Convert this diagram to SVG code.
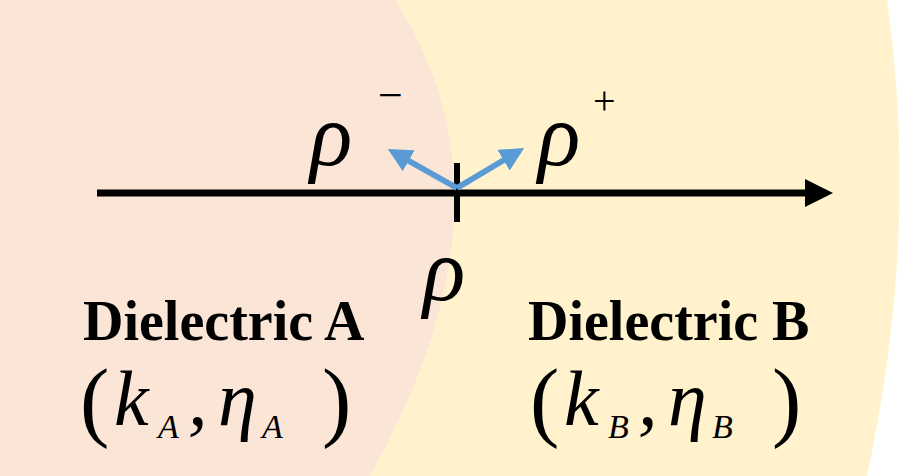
<svg xmlns="http://www.w3.org/2000/svg" width="916" height="476" viewBox="0 0 916 476">
<style>
text{font-family:"Liberation Serif","Times New Roman",serif;fill:#000}
.m{font-style:italic}
.b{font-weight:bold;font-size:56px}
.p{font-size:88px}
</style>
<defs>
<marker id="ah" markerWidth="4" markerHeight="4" refX="3" refY="2" orient="auto" markerUnits="strokeWidth"><path d="M0,0 L4,2 L0,4 z" fill="#000"/></marker>
<marker id="bh" markerWidth="4" markerHeight="4" refX="3" refY="2" orient="auto" markerUnits="strokeWidth"><path d="M0,0 L4,2 L0,4 z" fill="#5B9BD5"/></marker>
</defs>
<g id="background">
<path d="M0,0 H887 Q920,230 867,476 H0 Z" fill="#FFF2CC"/>
<path d="M0,0 H395 Q525,200 370,476 H0 Z" fill="#FBE5D6"/>
</g>
<g id="connectors">
<line x1="97" y1="193" x2="826" y2="193" stroke="#000" stroke-width="7" marker-end="url(#ah)"/>
<line x1="457" y1="163" x2="457" y2="222" stroke="#000" stroke-width="6"/>
<line x1="457" y1="188" x2="393" y2="152" stroke="#5B9BD5" stroke-width="6" marker-end="url(#bh)"/>
<line x1="457" y1="188" x2="519" y2="151" stroke="#5B9BD5" stroke-width="6" marker-end="url(#bh)"/>
</g>
<g id="labels">
<text class="m" x="310" y="165" font-size="88">ρ</text>
<text x="378" y="110" font-size="44">−</text>
<text class="m" x="538" y="165" font-size="88">ρ</text>
<text x="593" y="114" font-size="40">+</text>
<text class="m" x="423" y="300" font-size="88">ρ</text>
</g>
<g id="dielectricA">
<text class="b" x="83" y="340">Dielectric A</text>
<text class="p" x="80" y="430">(</text>
<text class="m" x="114" y="425" font-size="78">k</text>
<text class="m" x="158" y="438" font-size="34">A</text>
<text class="m" x="188" y="425" font-size="78">,</text>
<text class="m" x="218" y="425" font-size="78">η</text>
<text class="m" x="262" y="438" font-size="34">A</text>
<text class="p" x="322" y="430">)</text>
</g>
<g id="dielectricB">
<text class="b" x="528" y="340">Dielectric B</text>
<text class="p" x="530" y="430">(</text>
<text class="m" x="564" y="425" font-size="78">k</text>
<text class="m" x="608" y="438" font-size="34">B</text>
<text class="m" x="638" y="425" font-size="78">,</text>
<text class="m" x="668" y="425" font-size="78">η</text>
<text class="m" x="712" y="438" font-size="34">B</text>
<text class="p" x="772" y="430">)</text>
</g>
</svg>
